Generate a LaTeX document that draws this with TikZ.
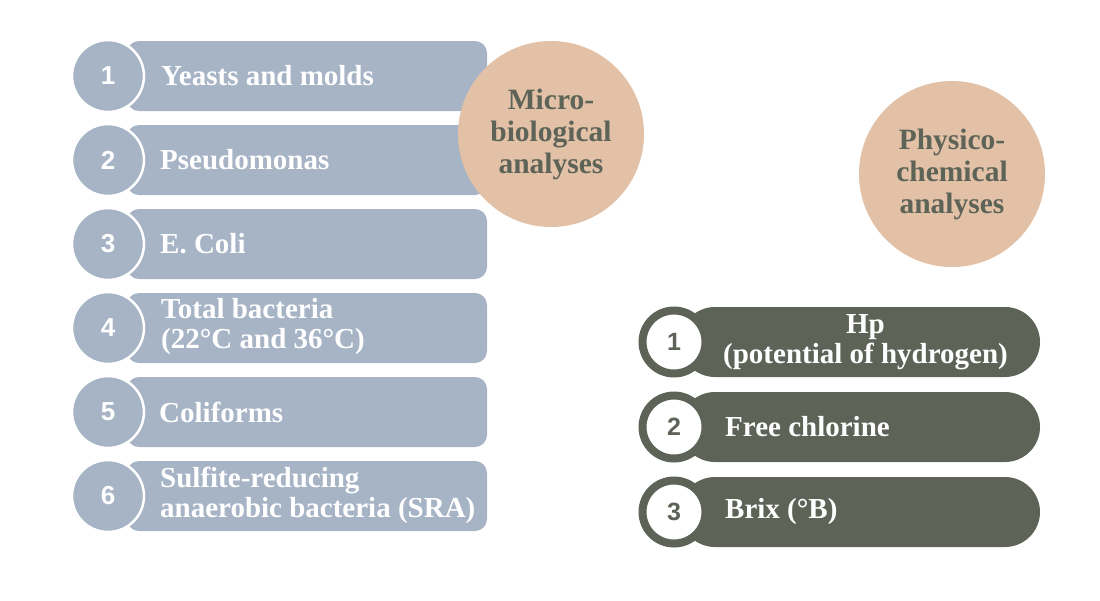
\documentclass[tikz,border=0pt]{standalone}
\usepackage{fontspec}
\setmainfont{Liberation Serif}
\newfontfamily\numfont{Liberation Sans}
\usepackage{tikz}
\usetikzlibrary{positioning,calc}

\definecolor{slate}{HTML}{A7B4C6}
\definecolor{peach}{HTML}{E2C1A7}
\definecolor{olive}{HTML}{5E6357}

\begin{document}
\begin{tikzpicture}[x=1pt,y=-1pt,
      bar/.style={rectangle,fill=slate,rounded corners=12pt,minimum width=360pt,minimum height=70pt,inner sep=0pt},
      num/.style={circle,fill=slate,draw=white,line width=2.5pt,minimum size=72pt,inner sep=0pt,text=white,font=\numfont\bfseries\fontsize{26}{26}\selectfont},
      label/.style={anchor=west,align=left,inner sep=0pt,text=white,font=\bfseries\fontsize{29}{30}\selectfont},
      disc/.style={circle,fill=peach,minimum size=186pt,inner sep=0pt,align=center,text=olive,font=\bfseries\fontsize{29.5}{32}\selectfont},
      pill/.style={rectangle,fill=olive,rounded corners=35pt,minimum width=360pt,minimum height=70pt,inner sep=0pt},
      ring/.style={circle,fill=white,draw=olive,line width=8pt,minimum size=63pt,inner sep=0pt,text=olive,font=\numfont\bfseries\fontsize{25}{25}\selectfont},
      plabel/.style={anchor=west,align=center,inner sep=0pt,text=white,font=\bfseries\fontsize{29}{30}\selectfont}]
      \useasboundingbox (0,0) rectangle (1100,600);
      % microbiological analyses
      \node[bar] (b1) at (307,76)  {};
      \node[bar] (b2) at (307,160) {};
      \node[bar] (b3) at (307,244) {};
      \node[bar] (b4) at (307,328) {};
      \node[bar] (b5) at (307,412) {};
      \node[bar] (b6) at (307,496) {};
      \node[num] (n1) at (108,76)  {1};
      \node[num] (n2) at (108,160) {2};
      \node[num] (n3) at (108,244) {3};
      \node[num] (n4) at (108,328) {4};
      \node[num] (n5) at (108,412) {5};
      \node[num] (n6) at (108,496) {6};
      \node[label] (t1) at (161,76)  {Yeasts and molds};
      \node[label] (t2) at (160,160) {Pseudomonas};
      \node[label] (t3) at (160,244) {E. Coli};
      \node[label] (t4) at (161,327) {Total bacteria\\(22°C and 36°C)};
      \node[label] (t5) at (159,412) {Coliforms};
      \node[label] (t6) at (160,495) {Sulfite-reducing\\anaerobic bacteria (SRA)};
      \node[disc] (micro) at (551,134) {Micro-\\biological\\analyses};
      % physico-chemical analyses
      \node[disc] (phys) at (952,174) {Physico-\\chemical\\analyses};
      \node[pill] (p1) at (860,342) {};
      \node[pill] (p2) at (860,427) {};
      \node[pill] (p3) at (860,512) {};
      \node[ring] (r1) at (674,342) {1};
      \node[ring] (r2) at (674,427) {2};
      \node[ring] (r3) at (674,512) {3};
      \node[plabel] (s1) at (723,342) {Hp\\(potential of hydrogen)};
      \node[plabel] (s2) at (725,427) {Free chlorine};
      \node[plabel] (s3) at (725,512) {Brix (°B)};
    \end{tikzpicture}
\end{document}
